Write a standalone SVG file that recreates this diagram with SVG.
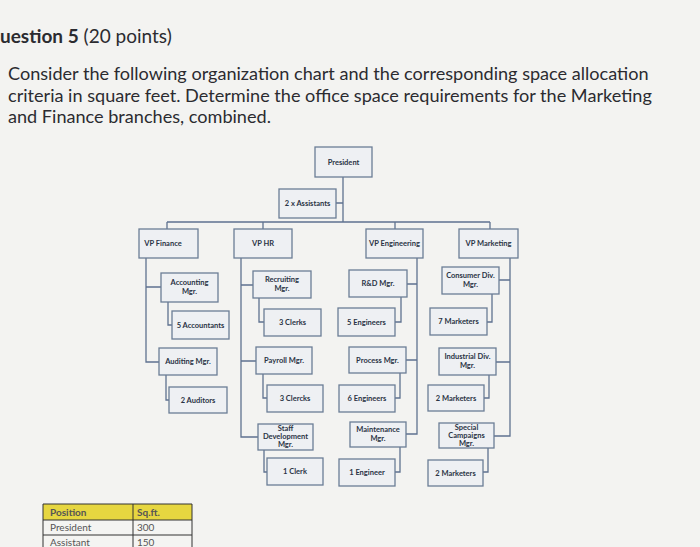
<svg xmlns="http://www.w3.org/2000/svg" width="700" height="547" viewBox="0 0 700 547">
<style>
.b{fill:#eef0f3;stroke:#6b7d96;stroke-width:1.3}
.t{font-family:Lato,"Liberation Sans",sans-serif;font-weight:bold;font-size:7.5px;fill:#2a3345;text-anchor:middle}
.c{fill:none;stroke:#5f7290;stroke-width:1.3}
.q{font-family:Lato,"Liberation Sans",sans-serif;fill:#2b2b30}
.tb{font-family:Lato,"Liberation Sans",sans-serif;font-size:10px;fill:#555}
</style>
<rect width="700" height="547" fill="#f3f3f1"/>
<text class="q" x="0" y="43" font-size="19"><tspan font-weight="bold">uestion 5</tspan> (20 points)</text>
<text class="q" x="8" y="80" font-size="18.1">Consider the following organization chart and the corresponding space allocation</text>
<text class="q" x="8" y="102" font-size="18.1">criteria in square feet. Determine the office space requirements for the Marketing</text>
<text class="q" x="8" y="123" font-size="18.1">and Finance branches, combined.</text>
<g id="connectors" class="c">
<path d="M343 177V222M336 203H343M167 222H490M167 222V229M263 222V229M395 222V229M490 222V229"/>
<path d="M146 258V362H159M146 287H161M168 302V325H172M166 375V400H169"/>
<path d="M241 258V437H258M241 285H253M259 298V322H264M241 361H256M263 374V398H267M264 450V472H267"/>
<path d="M417 258V434H406M417 284H407M401 297V322H395M417 360H406M400 373V398H395M400 447V472H395"/>
<path d="M510 258V436H494M510 280H499M492 294V322H487M510 362H496M489 375V398H484M488 448V472H483"/>
</g>
<g id="president"><rect class="b" x="315" y="147" width="57" height="30"/><text class="t" x="343.5" y="165">President</text></g>
<g id="assistants"><rect class="b" x="279" y="189" width="57" height="29"/><text class="t" x="307.5" y="206">2 x Assistants</text></g>
<g id="vpfin"><rect class="b" x="139" y="229" width="59" height="29"/><text class="t" x="163" y="246">VP Finance</text></g>
<g id="vphr"><rect class="b" x="234" y="229" width="58" height="29"/><text class="t" x="263" y="246">VP HR</text></g>
<g id="vpeng"><rect class="b" x="366" y="229" width="57" height="29"/><text class="t" x="394.5" y="246">VP Engineering</text></g>
<g id="vpmkt"><rect class="b" x="459" y="229" width="59" height="29"/><text class="t" x="488.5" y="246">VP Marketing</text></g>
<g id="accmgr"><rect class="b" x="161" y="273" width="57" height="29"/><text class="t" x="189.5" y="285">Accounting</text><text class="t" x="189.5" y="294">Mgr.</text></g>
<g id="accountants"><rect class="b" x="172" y="311" width="57" height="28"/><text class="t" x="200.5" y="328">5 Accountants</text></g>
<g id="audmgr"><rect class="b" x="159" y="348" width="58" height="27"/><text class="t" x="188" y="364">Auditing Mgr.</text></g>
<g id="auditors"><rect class="b" x="169" y="387" width="58" height="26"/><text class="t" x="198" y="403">2 Auditors</text></g>
<g id="recmgr"><rect class="b" x="253" y="271" width="58" height="27"/><text class="t" x="282" y="282">Recruiting</text><text class="t" x="282" y="291">Mgr.</text></g>
<g id="clerks5"><rect class="b" x="264" y="309" width="57" height="27"/><text class="t" x="292.5" y="325">3 Clerks</text></g>
<g id="paymgr"><rect class="b" x="256" y="347" width="56" height="27"/><text class="t" x="284" y="363">Payroll Mgr.</text></g>
<g id="clercks3"><rect class="b" x="267" y="385" width="56" height="27"/><text class="t" x="295" y="401">3 Clercks</text></g>
<g id="staffmgr"><rect class="b" x="258" y="424" width="55" height="26"/><text class="t" x="285.5" y="431">Staff</text><text class="t" x="285.5" y="439">Development</text><text class="t" x="285.5" y="447">Mgr.</text></g>
<g id="clerk1"><rect class="b" x="267" y="458" width="56" height="27"/><text class="t" x="295" y="474">1 Clerk</text></g>
<g id="rdmgr"><rect class="b" x="349" y="270" width="58" height="27"/><text class="t" x="378" y="286">R&amp;D Mgr.</text></g>
<g id="eng5"><rect class="b" x="338" y="308" width="57" height="28"/><text class="t" x="366.5" y="325">5 Engineers</text></g>
<g id="procmgr"><rect class="b" x="349" y="347" width="57" height="26"/><text class="t" x="377.5" y="363">Process Mgr.</text></g>
<g id="eng6"><rect class="b" x="339" y="385" width="56" height="27"/><text class="t" x="367" y="401">6 Engineers</text></g>
<g id="maintmgr"><rect class="b" x="350" y="422" width="56" height="25"/><text class="t" x="378" y="432">Maintenance</text><text class="t" x="378" y="441">Mgr.</text></g>
<g id="eng1"><rect class="b" x="339" y="459" width="56" height="27"/><text class="t" x="367" y="475">1 Engineer</text></g>
<g id="consmgr"><rect class="b" x="442" y="267" width="57" height="27"/><text class="t" x="470.5" y="278">Consumer Div.</text><text class="t" x="470.5" y="287">Mgr.</text></g>
<g id="mkt7"><rect class="b" x="430" y="308" width="57" height="27"/><text class="t" x="458.5" y="324">7 Marketers</text></g>
<g id="indmgr"><rect class="b" x="439" y="348" width="57" height="27"/><text class="t" x="467.5" y="359">Industrial Div.</text><text class="t" x="467.5" y="368">Mgr.</text></g>
<g id="mkt2a"><rect class="b" x="428" y="385" width="56" height="26"/><text class="t" x="456" y="401">2 Marketers</text></g>
<g id="specmgr"><rect class="b" x="439" y="423" width="55" height="25"/><text class="t" x="466.5" y="430">Special</text><text class="t" x="466.5" y="438">Campaigns</text><text class="t" x="466.5" y="446">Mgr.</text></g>
<g id="mkt2b"><rect class="b" x="428" y="460" width="55" height="26"/><text class="t" x="455.5" y="476">2 Marketers</text></g>
<g id="table">
<rect x="43" y="504" width="149" height="16" fill="#e6d640"/>
<rect x="43" y="520" width="149" height="27" fill="#f4f4f2"/>
<path d="M43 504H192V547M43 504V547M133 504V547M43 520H192M43 535H192" fill="none" stroke="#333" stroke-width="1"/>
<text class="tb" x="50" y="516" font-weight="bold" fill="#333">Position</text>
<text class="tb" x="137" y="516" font-weight="bold" fill="#333">Sq.ft.</text>
<text class="tb" x="50" y="531">President</text><text class="tb" x="137" y="531">300</text>
<text class="tb" x="50" y="546">Assistant</text><text class="tb" x="137" y="546">150</text>
</g>
</svg>
